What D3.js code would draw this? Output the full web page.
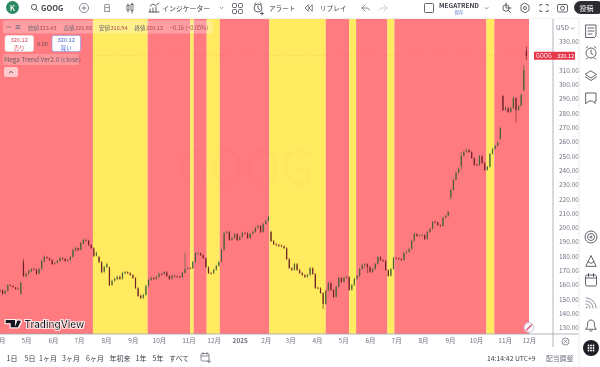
<!DOCTYPE html>
<html>
<head>
<meta charset="utf-8">
<script src="https://cdn.jsdelivr.net/npm/d3@7"></script>
<style>
  html, body { margin: 0; padding: 0; background: #fff; overflow: hidden; }
  svg { display: block; filter: blur(0.4px); }
  text { font-family: "Noto Sans CJK JP", "Noto Sans", sans-serif; }
</style>
</head>
<body>
<div id="chart"></div>
<script>
const parseDay = d3.utcParse("%Y-%m-%d");

// bars, one every 3 days from the first date
const firstBar = "2024-04-01";
const barStepDays = 3;
const closes = [
  156.4,153.6,155.7,159.8,159.5,158.5,157.1,157.3,161.2,166.2,
  167.6,169.6,171.0,170.8,167.6,171.0,176.6,179.4,178.7,177.3,
  174.5,175.2,176.6,178.7,178.0,176.6,177.3,179.4,184.3,185.7,
  184.3,189.2,191.3,191.0,187.8,185.7,180.1,182.2,175.9,168.9,
  172.4,174.5,159.8,162.7,164.1,165.5,164.1,168.2,168.9,168.2,
  166.9,164.8,157.8,152.2,150.8,152.9,159.1,163.4,164.8,164.1,
  165.5,167.6,167.3,168.9,166.2,164.1,166.2,166.0,165.5,165.3,
  168.2,171.0,171.7,171.5,175.9,182.2,182.0,180.8,178.7,172.4,
  168.2,168.0,170.4,173.1,175.9,184.3,196.2,196.9,191.3,192.7,
  195.5,191.3,193.4,196.2,196.0,192.7,195.5,196.9,199.7,201.1,
  196.9,202.5,204.6,207.4,190.6,188.5,187.8,187.1,187.0,185.7,
  178.0,171.7,170.4,174.5,170.4,168.2,166.9,165.5,166.9,171.7,
  167.6,157.8,157.6,154.3,146.6,155.7,161.2,156.4,151.5,158.5,
  164.8,162.0,164.8,165.5,156.4,159.8,164.1,166.2,171.0,173.8,
  174.5,172.4,168.9,171.0,174.5,179.4,177.3,176.6,170.4,166.2,
  171.0,178.7,178.5,178.0,177.3,182.2,182.9,185.0,190.6,195.5,
  194.1,194.3,194.8,192.0,196.9,199.0,203.9,203.7,201.8,201.1,
  206.7,208.1,210.9,226.3,233.3,238.2,241.0,250.1,252.9,254.3,
  252.9,248.7,243.8,243.6,250.1,245.2,240.3,242.4,251.5,254.9,
  257.1,259.2,269.6,282.2,283.6,280.8,283.6,290.6,282.2,285.0,
  292.7,310.2,320.12
];
const opens = [
  155.2,156.2,153.9,155.9,159.6,159.3,158.3,157.0,153.6,176.0,
  166.0,167.8,169.4,171.1,170.6,167.9,171.2,176.4,179.2,178.6,
  177.1,174.7,175.4,176.7,178.5,178.1,176.7,177.5,179.6,184.1,
  185.6,184.5,189.0,191.1,190.8,187.7,185.5,180.4,179.5,175.7,
  169.2,172.5,172.0,160.0,162.9,164.0,165.4,164.3,168.0,168.8,
  168.0,166.7,164.6,157.6,152.4,151.0,153.1,159.3,163.6,164.7,
  164.2,165.7,167.5,167.5,168.7,166.0,164.3,166.1,165.8,165.6,
  165.5,168.4,171.2,171.6,171.7,176.1,182.0,181.9,180.6,178.5,
  172.2,168.1,168.2,170.6,173.3,176.2,184.5,196.4,196.7,191.5,
  192.9,195.3,191.5,193.6,196.1,195.8,192.9,195.7,197.1,199.9,
  201.0,197.1,202.7,204.8,197.0,190.4,188.3,187.7,187.2,186.8,
  185.5,177.8,171.5,170.6,174.3,170.2,168.1,166.7,165.7,167.1,
  171.5,167.4,157.9,157.4,154.1,146.8,155.9,161.0,156.2,151.7,
  158.7,164.6,162.2,164.9,165.3,156.6,160.0,164.3,166.4,171.2,
  174.0,174.3,172.2,169.1,171.2,174.7,179.2,177.1,176.4,170.2,
  166.4,171.2,178.6,178.3,177.8,177.5,182.4,183.1,185.2,190.8,
  195.3,194.2,194.4,194.6,192.2,197.1,199.2,204.0,203.5,201.6,
  201.3,206.9,208.3,221.5,226.5,233.5,238.4,243.0,250.3,253.1,
  254.1,252.7,248.5,243.9,243.8,249.9,245.0,240.5,242.6,251.7,
  255.1,257.3,262.0,292.0,282.4,283.4,281.0,283.8,290.4,282.4,
  285.2,296.0,323.43
];
const highs = [
  156.9,156.6,156.2,160.6,160.3,159.6,158.5,158.0,162.4,178.0,
  168.6,170.4,171.9,172.0,171.2,171.8,177.5,180.6,180.0,179.0,
  177.9,176.0,177.3,179.7,179.2,178.8,178.1,180.3,185.3,186.9,
  186.2,190.2,192.5,192.2,191.6,188.5,186.3,183.2,180.1,176.6,
  173.2,175.4,172.8,163.6,165.0,166.4,166.6,169.1,169.8,169.4,
  168.8,167.5,165.5,158.3,153.2,153.8,159.9,164.3,165.6,165.3,
  166.3,168.5,168.2,169.7,169.5,166.8,167.1,167.0,166.4,166.3,
  169.0,182.5,172.6,172.4,176.7,183.0,183.0,182.7,181.4,179.3,
  173.0,169.0,171.2,174.0,176.8,185.2,197.0,198.0,197.7,193.6,
  196.3,196.2,194.3,197.2,197.0,196.8,196.4,197.9,200.6,201.9,
  201.8,203.4,205.5,208.4,197.8,191.3,189.2,188.7,188.2,187.6,
  186.3,178.8,172.4,175.4,175.3,171.2,169.0,167.5,167.8,172.5,
  172.3,168.2,158.7,158.3,154.9,156.6,162.0,161.8,157.0,159.4,
  165.6,165.4,165.7,166.3,166.1,160.7,164.9,167.0,171.8,174.6,
  175.5,175.1,173.0,171.9,175.3,180.3,180.1,177.9,177.2,171.0,
  171.8,179.6,179.3,179.0,178.6,183.1,184.0,185.9,191.4,196.3,
  196.1,195.2,195.5,195.4,197.8,199.9,204.8,204.8,204.2,202.3,
  207.6,209.0,211.7,227.2,234.2,239.2,242.0,252.6,253.9,255.3,
  255.0,253.5,249.3,244.7,251.0,250.7,245.9,243.3,252.4,255.8,
  258.0,260.2,270.6,292.6,284.8,284.4,284.4,291.6,291.3,285.8,
  293.6,313.6,326.88
];
const lows = [
  154.6,153.0,153.5,155.2,158.8,157.8,156.4,156.5,153.4,165.4,
  165.2,167.0,168.7,170.1,167.0,167.2,170.6,175.8,178.0,176.6,
  173.9,174.1,174.8,176.0,177.3,176.0,176.2,176.9,178.9,183.4,
  183.6,183.9,188.4,190.3,187.1,185.0,179.4,179.8,175.0,168.0,
  168.4,171.8,159.0,159.4,162.1,163.3,163.4,163.6,167.3,167.5,
  166.2,164.1,157.0,151.5,150.0,150.2,152.4,158.7,162.9,163.4,
  163.5,165.0,166.6,166.9,165.5,163.4,163.6,165.3,164.9,164.7,
  164.9,167.8,170.8,170.8,171.0,175.4,181.2,180.1,178.0,171.7,
  167.5,167.2,167.5,169.9,172.6,175.5,183.8,195.7,190.6,190.8,
  192.1,190.6,190.8,193.0,195.2,192.0,192.2,195.0,196.4,199.1,
  196.2,196.4,202.0,204.2,189.9,187.8,187.0,186.4,186.3,185.0,
  177.3,171.0,169.7,169.8,169.7,167.5,166.2,164.8,165.0,166.4,
  166.9,157.1,156.9,153.6,143.0,146.0,155.2,155.7,150.8,151.0,
  158.0,161.3,161.5,164.2,155.7,155.9,159.2,163.6,165.5,170.4,
  171.7,168.2,168.2,168.4,170.5,174.0,176.6,175.9,169.7,165.5,
  165.7,170.5,177.8,177.3,176.6,176.8,181.7,182.4,184.5,190.1,
  193.4,193.6,193.8,191.3,191.5,196.4,198.5,203.0,201.1,200.4,
  200.6,206.2,207.6,219.5,225.8,232.8,237.7,240.0,249.6,252.4,
  252.2,248.0,243.1,242.9,243.1,244.5,239.6,239.8,241.9,251.0,
  254.4,256.6,261.4,281.5,281.7,280.1,280.3,283.1,273.5,281.7,
  284.5,295.4,316.94
];

// Mega Trend background: each state runs until the next date
const bandEdges = [
  "2024-04-01","2024-07-17","2024-09-18","2024-11-06","2024-11-10","2024-11-25","2024-12-10",
  "2025-02-05","2025-04-11","2025-05-08","2025-05-16","2025-06-21","2025-06-29","2025-10-13",
  "2025-10-22","2025-12-01"
];
const bandStates = ["sell","buy","sell","buy","sell","buy","sell","buy","sell","buy","sell","buy","sell","buy","sell"];

const timeTicks = [
  "2024-04-01","2024-05-01","2024-06-01","2024-07-01","2024-08-01","2024-09-01","2024-10-01",
  "2024-11-04","2024-12-03","2025-01-02","2025-02-01","2025-03-01","2025-04-01","2025-05-01",
  "2025-06-01","2025-07-01","2025-08-01","2025-09-01","2025-10-01","2025-11-03","2025-12-01"
];
const priceTicks = [130,140,150,160,170,180,190,200,210,220,230,240,250,260,270,280,290,300,310,330];
const lastPrice = 320.12;

const rangeLabels = ["1日","5日","1ヶ月","3ヶ月","6ヶ月","年初来","1年","5年","すべて"];
const ohlcLabels = ["始値","高値","安値","終値"];
const ohlcValues = ["323.43","326.88","316.94","320.12"];

const width = 600;
const height = 367;
const plot = { top: 19, bottom: 334, right: 529, axis: 553, side: 579 };

const bandColor = d3.scaleOrdinal(["sell","buy"], ["#ff7b80","#ffea60"]);
const upColor = "#47633a";
const downColor = "#6e2026";
const inkColor = "#3a3d46";
const greyColor = "#6f7480";

const x = d3.scaleUtc()
  .domain([parseDay("2024-04-01"), parseDay("2025-12-01")])
  .range([0, plot.right]);
const y = d3.scaleLinear().domain([130, 330]).range([327.7, 41.7]);

const bars = closes.map((c, i) => ({
  date: d3.utcDay.offset(parseDay(firstBar), i * barStepDays),
  open: opens[i], high: highs[i], low: lows[i], close: c
}));
const bands = bandStates.map((s, i) => ({
  state: s, from: parseDay(bandEdges[i]), to: parseDay(bandEdges[i + 1])
}));

const svg = d3.select("#chart").append("svg")
  .attr("width", width)
  .attr("height", height);

const defs = svg.append("defs");
defs.append("clipPath").attr("id", "plot-clip").append("rect")
  .attr("x", 0).attr("y", plot.top).attr("width", plot.axis).attr("height", plot.bottom - plot.top);
defs.append("filter").attr("id", "halo")
  .call(f => {
    f.append("feMorphology").attr("in", "SourceAlpha").attr("operator", "dilate").attr("radius", 1).attr("result", "m");
    f.append("feFlood").attr("flood-color", "#fff").attr("flood-opacity", 0.85);
    f.append("feComposite").attr("in2", "m").attr("operator", "in").attr("result", "h");
    const mg = f.append("feMerge");
    mg.append("feMergeNode").attr("in", "h");
    mg.append("feMergeNode").attr("in", "SourceGraphic");
  });

const chart = svg.append("g").attr("clip-path", "url(#plot-clip)");

chart.selectAll("rect.band")
  .data(bands)
  .enter()
  .append("rect")
  .attr("class", "band")
  .attr("x", d => x(d.from))
  .attr("width", d => x(d.to) - x(d.from))
  .attr("y", plot.top)
  .attr("height", plot.bottom - plot.top)
  .attr("fill", d => bandColor(d.state));

chart.append("text")
  .attr("x", 245).attr("y", 185)
  .attr("text-anchor", "middle")
  .attr("font-size", 48)
  .attr("fill", "#000")
  .attr("opacity", 0.008)
  .text("GOOG");

chart.append("line")
  .attr("x1", 0).attr("x2", plot.axis)
  .attr("y1", y(lastPrice)).attr("y2", y(lastPrice))
  .attr("stroke", "#e0505f")
  .attr("stroke-width", 0.5)
  .attr("stroke-dasharray", "1 2")
  .attr("opacity", 0.5);

const candle = chart.selectAll("g.bar")
  .data(bars)
  .enter()
  .append("g")
  .attr("class", "bar")
  .attr("stroke", d => d.close >= d.open ? upColor : downColor)
  .attr("fill", d => d.close >= d.open ? upColor : downColor);

candle.append("line")
  .attr("x1", d => x(d.date)).attr("x2", d => x(d.date))
  .attr("y1", d => y(d.high)).attr("y2", d => y(d.low))
  .attr("stroke-width", 0.6);

candle.append("rect")
  .attr("x", d => x(d.date) - 0.6)
  .attr("width", 1.2)
  .attr("y", d => y(Math.max(d.open, d.close)))
  .attr("height", d => Math.max(0.6, Math.abs(y(d.open) - y(d.close))))
  .attr("stroke", "none");

// time axis
const timeAxis = d3.axisBottom(x)
  .tickValues(timeTicks.map(parseDay))
  .tickSize(0)
  .tickPadding(4)
  .tickFormat(d => d.getUTCMonth() === 0 ? d.getUTCFullYear() : (d.getUTCMonth() + 1) + "月");

svg.append("g")
  .attr("transform", `translate(0,${plot.bottom})`)
  .call(timeAxis)
  .call(g => g.select(".domain").remove())
  .call(g => g.selectAll("text")
    .attr("font-size", 6.5)
    .attr("fill", greyColor)
    .attr("font-weight", d => d.getUTCMonth() === 0 ? 700 : 400));

// price axis
const priceAxis = d3.axisRight(y)
  .tickValues(priceTicks)
  .tickSize(0)
  .tickPadding(6)
  .tickFormat(d3.format(".2f"));

svg.append("g")
  .attr("transform", `translate(${plot.axis},0)`)
  .call(priceAxis)
  .call(g => g.select(".domain").remove())
  .call(g => g.selectAll("text")
    .attr("font-size", 6.5)
    .attr("fill", greyColor));

const rule = (x1, y1, x2, y2, color) => svg.append("line")
  .attr("x1", x1).attr("y1", y1).attr("x2", x2).attr("y2", y2)
  .attr("stroke", color).attr("stroke-width", 0.8);

rule(0, plot.bottom, plot.side, plot.bottom, "#9ea2ab");
rule(plot.axis, plot.top, plot.axis, 347, "#9ea2ab");
rule(plot.side, plot.top, plot.side, height, "#e6e7ea");
rule(0, plot.top - 0.5, width, plot.top - 0.5, "#eceded");

svg.append("text").attr("x", 556).attr("y", 30).attr("font-size", 6.5).attr("fill", greyColor).text("USD");
svg.append("path").attr("d", "M571 27.5l1.6 1.6 1.6-1.6").attr("fill", "none").attr("stroke", greyColor).attr("stroke-width", 0.8);

// last price tag
const tag = svg.append("g");
tag.append("rect").attr("x", 534).attr("y", y(lastPrice) - 4).attr("width", 41).attr("height", 8).attr("fill", "#e5384c").attr("rx", 0.5);
tag.append("text").attr("x", 536).attr("y", y(lastPrice) + 2.3).attr("font-size", 5.5).attr("fill", "#fff").text("GOOG");
tag.append("text").attr("x", 574).attr("y", y(lastPrice) + 2.3).attr("font-size", 5.5).attr("text-anchor", "end").attr("fill", "#fff").text(d3.format(".2f")(lastPrice));

// helpers for the chrome
const label = (tx, ty, size, color, str, anchor, weight) => svg.append("text")
  .attr("x", tx).attr("y", ty)
  .attr("font-size", size)
  .attr("fill", color)
  .attr("text-anchor", anchor || "start")
  .attr("font-weight", weight || 400)
  .text(str);
const icon = (dString, color, w) => svg.append("path")
  .attr("d", dString)
  .attr("fill", "none")
  .attr("stroke", color || inkColor)
  .attr("stroke-width", w || 0.8)
  .attr("stroke-linecap", "round")
  .attr("stroke-linejoin", "round");
const dot = (cx, cy, r, fill, stroke) => svg.append("circle")
  .attr("cx", cx).attr("cy", cy).attr("r", r)
  .attr("fill", fill || "none")
  .attr("stroke", stroke || "none")
  .attr("stroke-width", 0.8);

// top toolbar
dot(12.5, 7.5, 6.5, "#2f8a62");
label(12.5, 10.5, 8, "#fff", "K", "middle", 500);
dot(34, 7, 2.6, "none", inkColor);
icon("M36 9l2 2");
label(41, 10.5, 7.5, inkColor, "GOOG", "start", 700);
dot(84, 8, 4.6, "none", greyColor);
icon("M84 6v4M82 8h4", greyColor);
label(107, 10.7, 7.5, inkColor, "日", "middle");
icon("M128 4v8M132 3v10", inkColor);
svg.append("rect").attr("x", 127).attr("y", 5.5).attr("width", 2).attr("height", 4.5).attr("fill", "#fff").attr("stroke", inkColor).attr("stroke-width", 0.7);
svg.append("rect").attr("x", 131).attr("y", 4.5).attr("width", 2).attr("height", 6).attr("fill", "#fff").attr("stroke", inkColor).attr("stroke-width", 0.7);
icon("M149 12h10M150 12V9M153 12V8M156 12V7M150 6l3-2 2.5 1.5L159 3");
label(162, 10.5, 6.9, inkColor, "インジケーター");
icon("M220 7.2l1.5 1.5 1.5-1.5", greyColor);
[[233, 4], [239, 4], [233, 10], [239, 10]].forEach(p => svg.append("rect")
  .attr("x", p[0] - 0.5).attr("y", p[1] - 0.5).attr("width", 4).attr("height", 4).attr("rx", 1)
  .attr("fill", "none").attr("stroke", inkColor).attr("stroke-width", 0.8));
dot(258, 8, 4, "none", inkColor);
icon("M258 6v2.5l1.5 1M254.5 4l1.5-1.2M261.5 4l-1.5-1.2M262 12v3M260.5 13.5h3");
label(269, 10.5, 6.6, inkColor, "アラート");
icon("M308 5l-3 3 3 3zM312 5l-3 3 3 3z", greyColor, 0.9);
label(320, 10.5, 6.6, inkColor, "リプレイ");
icon("M362 8l3-3M362 8l3 3M362 8h5a3 3 0 0 1 2.5 2", greyColor);
icon("M387 8l-3-3M387 8l-3 3M387 8h-5a3 3 0 0 0-2.5 2", "#c4c6cc");
svg.append("rect").attr("x", 424.5).attr("y", 3.5).attr("width", 9).attr("height", 9).attr("rx", 1)
  .attr("fill", "none").attr("stroke", inkColor).attr("stroke-width", 0.8);
label(459, 7.8, 6.5, inkColor, "MEGATREND", "middle", 600);
label(459, 13.5, 4.5, "#5d7fd6", "保存", "middle");
icon("M485 7.5l1.5 1.5 1.5-1.5", greyColor);
dot(506, 8, 3.2, "none", inkColor);
icon("M508.5 10.5l2 2M506 3v5h5");
icon("M525 3.2l4 2.4v4.8l-4 2.4-4-2.4V5.6z");
dot(525, 8, 1.5, "none", inkColor);
icon("M540 6V4.5h2M548 6V4.5h-2M540 10v1.5h2M548 10v1.5h-2");
svg.append("rect").attr("x", 557.5).attr("y", 4.5).attr("width", 10).attr("height", 7.5).attr("rx", 1.2)
  .attr("fill", "none").attr("stroke", inkColor).attr("stroke-width", 0.8);
dot(562.5, 8.2, 2, "none", inkColor);
svg.append("rect").attr("x", 574).attr("y", 1).attr("width", 30).attr("height", 13).attr("rx", 6.5).attr("fill", "#2a2c31");
label(586.5, 10.5, 7, "#fff", "投稿", "middle");

// legend
svg.append("rect").attr("x", 3).attr("y", 20.5).attr("width", 210).attr("height", 13).attr("rx", 2).attr("fill", "#fff").attr("opacity", 0.28);
icon("M7 27h4M16 25.5h4M16 27h4M16 28.5h4", greyColor);
const legendRow = d3.scaleLinear().domain([0, 4]).range([28, 170]);
ohlcLabels.forEach((l, i) => {
  label(legendRow(i), 29.5, 5.6, "#6b6a70", l);
  label(legendRow(i) + 11.5, 29.5, 5.6, "#a8484f", ohlcValues[i]);
});
label(170, 29.5, 5.6, "#a8484f", "−0.16 (−0.05%)");

[[5, "#d8404f", "売り", "#e2e3e6"], [52, "#3f5fd0", "買い", "#7f9bea"]].forEach(b => {
  svg.append("rect").attr("x", b[0]).attr("y", 35.5).attr("width", 28.5).attr("height", 16).attr("rx", 2)
    .attr("fill", "#fff").attr("stroke", b[3]).attr("stroke-width", 0.6);
  label(b[0] + 14.2, 42, 5.6, b[1], "320.12", "middle");
  label(b[0] + 14.2, 49.5, 5.4, b[1], b[2], "middle");
});
label(42.5, 45.5, 5.5, "#5b4a4a", "0.00", "middle");

svg.append("rect").attr("x", 3).attr("y", 54).attr("width", 76).attr("height", 11).attr("rx", 2).attr("fill", "#fff").attr("opacity", 0.22);
label(4, 62, 6.5, "#6b5a5e", "Mega Trend Ver2.0 (close)");
svg.append("rect").attr("x", 4).attr("y", 67).attr("width", 14).attr("height", 10).attr("rx", 2).attr("fill", "#fff").attr("opacity", 0.6);
icon("M9.5 72.8l1.5-1.5 1.5 1.5", inkColor, 0.9);

// logo
const logo = svg.append("g").attr("filter", "url(#halo)");
logo.append("path").attr("fill", "#131722")
  .attr("d", "M5.5 320h9.5v7.5h-4.5v-4.2H5.500zM19 320.700h2.300l-3.300 6.800h-3.500l2.600-6.800z");
logo.append("circle").attr("cx", 18.5).attr("cy", 321.5).attr("r", 1.3).attr("fill", "#131722");
logo.append("text")
  .attr("x", 24.5).attr("y", 328.2)
  .attr("font-size", 9.8)
  .attr("font-weight", 600)
  .attr("fill", "#131722")
  .style("font-family", "Inter")
  .text("TradingView");

// compass bubble
dot(529, 327.5, 5, "#f8f3f7", "#c9b8d8");
icon("M531.5 325l-5 5", "#e0507a", 1.2);

// bottom range row
const rangeCentres = [12, 30, 48, 71, 95, 120, 141, 158, 179];
rangeLabels.forEach((r, i) => label(rangeCentres[i], 360.5, 7, inkColor, r, "middle"));
svg.append("rect").attr("x", 201).attr("y", 353.5).attr("width", 8).attr("height", 7.5).attr("rx", 1)
  .attr("fill", "none").attr("stroke", greyColor).attr("stroke-width", 0.8);
icon("M201 356h8M203 352.5v2M207 352.5v2M209 360v3M207.5 361.5h3", greyColor);
label(487, 360.5, 6.8, inkColor, "14:14:42 UTC+9");
label(546, 360.5, 6.8, greyColor, "配当調整");

dot(565.5, 341.5, 3.5, "none", greyColor);
icon("M564 340l3 3M567 340l-3 3", greyColor, 0.7);

// right toolbar
icon("M586 25h10v11l-1.5 1.5H586zM588 28h6M588 31h6M588 34h4");
dot(591, 53, 5, "none", inkColor);
icon("M591 50v3.5l2 1M586 48l1.800-1.500M596 48l-1.800-1.500M587.500 58l-1 1.200M594.500 58l1 1.200");
icon("M591 71l5.5 3.5-5.5 3.5-5.5-3.500zM585.500 77l5.500 3.500 5.500-3.500");
icon("M586 93h10v8h-1v2.500l-2.500-2.500H589l-3 2.500z");
dot(591, 237, 6, "none", inkColor);
dot(591, 237, 3.5, "none", inkColor);
dot(591, 237, 1, "none", inkColor);
icon("M586 266l5-10.500 5 10.500zM588 261.500l3 2 3-2");
svg.append("rect").attr("x", 585.5).attr("y", 275).attr("width", 11).attr("height", 11).attr("rx", 1.5)
  .attr("fill", "none").attr("stroke", inkColor).attr("stroke-width", 0.8);
icon("M585.5 278h11M588.5 273.5v3M593.5 273.5v3");
icon("M586 298c5.500 0 10 4.500 10 10M586 301c3.800 0 7 3.200 7 7M586 304c2.200 0 4 1.800 4 4", greyColor);
dot(586.8, 307.5, 0.8, greyColor);
icon("M586 329c1.500-1.500 1.500-3 1.500-5 0-2.500 1.500-4 3.500-4s3.500 1.500 3.500 4c0 2 0 3.500 1.500 5zM590 331h2");
dot(591, 348, 8, "#1e2025");
[-2.5, 0, 2.5].forEach(i => [-2.5, 0, 2.5].forEach(j =>
  dot(591 + i, 348 + j, 0.9, "#fff")));
</script>
</body>
</html>
